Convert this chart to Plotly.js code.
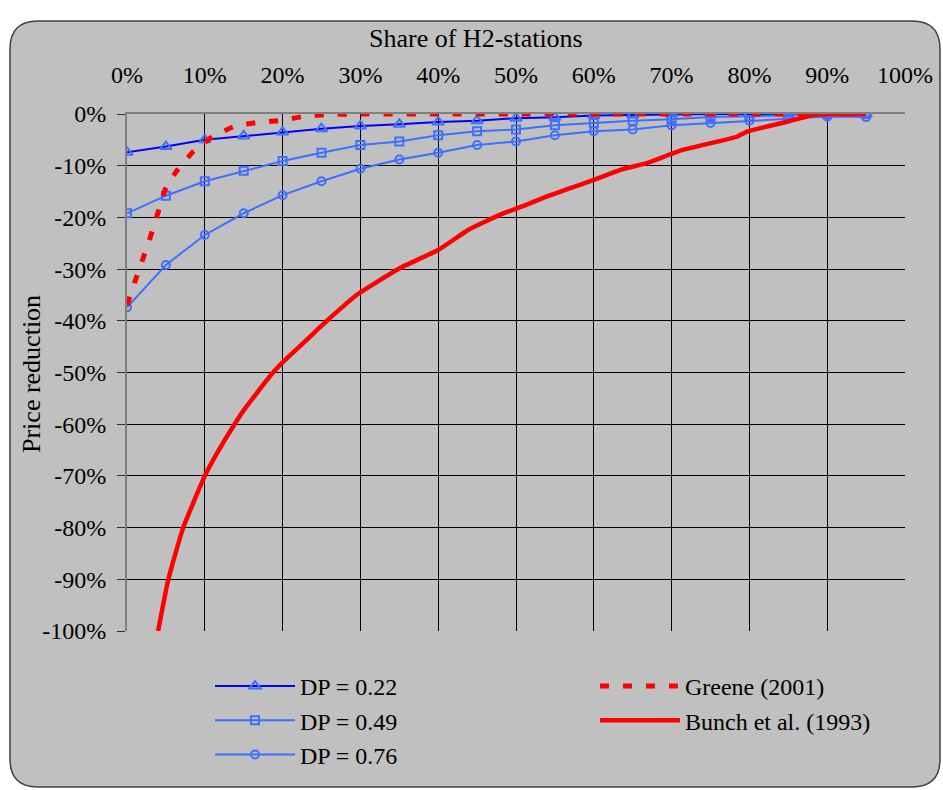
<!DOCTYPE html>
<html>
<head>
<meta charset="utf-8">
<script src="https://cdn.plot.ly/plotly-3.0.1.min.js"></script>
<style>html,body{margin:0;padding:0;background:#fff;}#chart{width:943px;height:790px;}</style>
</head>
<body>
<div id="chart"></div>
<script>
// ---- data ----
const dpX = [0,5,10,15,20,25,30,35,40,45,50,55,60,65,70,75,80,85,90,95];
const dp22 = [-7.4,-6.3,-5.0,-4.25,-3.5,-2.85,-2.3,-2.0,-1.55,-1.3,-0.8,-0.65,-0.3,-0.2,0,0,0,0,0,0];
const dp49 = [-19.2,-15.8,-13.0,-11.0,-9.1,-7.5,-6.0,-5.3,-4.1,-3.35,-3.0,-2.2,-1.75,-1.3,-1.0,-0.6,-0.45,-0.2,0,0];
const dp76 = [-37.4,-29.2,-23.4,-19.2,-15.7,-13.0,-10.6,-8.8,-7.5,-6.0,-5.3,-4.1,-3.35,-3.0,-2.2,-1.75,-1.3,-0.9,-0.5,-0.6];
const greeneX = [0,1,2,3,4,5,6.5,8.5,11,14,17,20,23,26,30,40,50,60,70,80,90,95];
const greeneY = [-37,-32.5,-28.2,-23.8,-19.0,-14.3,-10.8,-7.3,-4.4,-2.3,-1.6,-1.2,-0.4,-0.1,0,0,0,0,0,0,0,0];
const bunchX = [4.0,5.3,7.2,10.0,11.3,13.9,15.2,18.6,20.1,23.1,24.4,26.5,29.5,35.1,40,43.9,47.9,50.9,53.9,56.5,59.9,63.6,66.8,71.3,78.4,79.7,84.8,88.2,90,95];
const bunchY = [-100,-90.1,-80.1,-70.0,-66.3,-59.8,-56.9,-50.3,-47.9,-43.7,-41.8,-38.9,-35.0,-29.8,-26.3,-22.4,-19.5,-17.8,-16.0,-14.6,-12.8,-10.7,-9.5,-7.0,-4.4,-3.4,-1.5,-0.2,0,0];
const xTickVals = [0,10,20,30,40,50,60,70,80,90,100];
const xTickText = ['0%','10%','20%','30%','40%','50%','60%','70%','80%','90%','100%'];
const yTickVals = [0,-10,-20,-30,-40,-50,-60,-70,-80,-90,-100];
const yTickText = ['0%','-10%','-20%','-30%','-40%','-50%','-60%','-70%','-80%','-90%','-100%'];
const seriesNames = ['DP = 0.22','DP = 0.49','DP = 0.76','Greene (2001)','Bunch et al. (1993)'];

const FONT = 'Liberation Serif, Times New Roman, serif';
const lightBlue = '#3f6fff';

const traces = [
  {x: dpX, y: dp22, name: seriesNames[0], type: 'scatter', mode: 'lines+markers',
   line: {color: '#0000ff', width: 2},
   marker: {symbol: 'triangle-up-open', size: 10, color: lightBlue, line: {width: 2, color: lightBlue}},
   legend: 'legend'},
  {x: dpX, y: dp49, name: seriesNames[1], type: 'scatter', mode: 'lines+markers',
   line: {color: lightBlue, width: 2},
   marker: {symbol: 'square-open', size: 8, color: lightBlue, line: {width: 2, color: lightBlue}},
   legend: 'legend'},
  {x: dpX, y: dp76, name: seriesNames[2], type: 'scatter', mode: 'lines+markers',
   line: {color: lightBlue, width: 2},
   marker: {symbol: 'circle-open', size: 8, color: lightBlue, line: {width: 2, color: lightBlue}},
   legend: 'legend'},
  {x: greeneX, y: greeneY, name: seriesNames[3], type: 'scatter', mode: 'lines',
   line: {color: '#ff0000', width: 5, dash: '9px,14px', shape: 'spline', smoothing: 0.5},
   legend: 'legend2'},
  {x: bunchX, y: bunchY, name: seriesNames[4], type: 'scatter', mode: 'lines',
   line: {color: '#ff0000', width: 4.5, shape: 'spline', smoothing: 0.4},
   legend: 'legend2'}
];

// rounded outer frame in paper coords (plot area: 127..905 px, 114..631 px)
const PW = 778, PH = 517, L = 127, B = 631;
const px = v => ((v - L) / PW).toFixed(4);
const py = v => ((B - v) / PH).toFixed(4);
const x0 = 10, x1 = 940, y0 = 21, y1 = 787, r = 28;
const framePath = `M ${px(x0+r)} ${py(y0)} L ${px(x1-r)} ${py(y0)} Q ${px(x1)} ${py(y0)} ${px(x1)} ${py(y0+r)} ` +
  `L ${px(x1)} ${py(y1-r)} Q ${px(x1)} ${py(y1)} ${px(x1-r)} ${py(y1)} L ${px(x0+r)} ${py(y1)} ` +
  `Q ${px(x0)} ${py(y1)} ${px(x0)} ${py(y1-r)} L ${px(x0)} ${py(y0+r)} Q ${px(x0)} ${py(y0)} ${px(x0+r)} ${py(y0)} Z`;

const layout = {
  width: 943, height: 790,
  margin: {l: 127, r: 38, t: 114, b: 159, pad: 0, autoexpand: false},
  paper_bgcolor: '#ffffff',
  plot_bgcolor: '#c0c0c0',
  font: {family: FONT, size: 24, color: '#000'},
  showlegend: true,
  xaxis: {
    side: 'top', range: [0, 100], tickvals: xTickVals, ticktext: xTickText,
    showgrid: true, gridcolor: '#000', gridwidth: 1, zeroline: false,
    showline: true, linecolor: '#808080', linewidth: 2, ticks: '',
    ticklabelstandoff: 19, tickfont: {family: FONT, size: 24}, fixedrange: true, automargin: false
  },
  yaxis: {
    range: [-100, 0], tickvals: yTickVals, ticktext: yTickText,
    showgrid: true, gridcolor: '#000', gridwidth: 1, zeroline: false,
    showline: true, linecolor: '#808080', linewidth: 2,
    ticks: 'outside', ticklen: 8, tickcolor: '#303030', tickwidth: 1,
    ticklabelstandoff: 6, tickfont: {family: FONT, size: 24}, fixedrange: true, automargin: false
  },
  legend: {
    x: px(210), y: py(664), xanchor: 'left', yanchor: 'top',
    bgcolor: 'rgba(0,0,0,0)', borderwidth: 0,
    font: {family: FONT, size: 24}, itemwidth: 80, tracegroupgap: 0
  },
  legend2: {
    x: px(595), y: py(664), xanchor: 'left', yanchor: 'top',
    bgcolor: 'rgba(0,0,0,0)', borderwidth: 0,
    font: {family: FONT, size: 24}, itemwidth: 80, tracegroupgap: 0
  },
  shapes: [
    {type: 'path', xref: 'paper', yref: 'paper', path: framePath, layer: 'below',
     fillcolor: '#c0c0c0', line: {color: '#404040', width: 1.5}}
  ],
  annotations: [
    {text: 'Share of H2-stations', xref: 'paper', yref: 'paper', x: px(476), y: py(39),
     xanchor: 'center', yanchor: 'middle', showarrow: false, font: {family: FONT, size: 26}},
    {text: 'Price reduction', xref: 'paper', yref: 'paper', x: px(32), y: py(374),
     xanchor: 'center', yanchor: 'middle', showarrow: false, textangle: -90, font: {family: FONT, size: 26}}
  ]
};

Plotly.newPlot('chart', traces, layout, {displayModeBar: false, staticPlot: true});
</script>
</body>
</html>
